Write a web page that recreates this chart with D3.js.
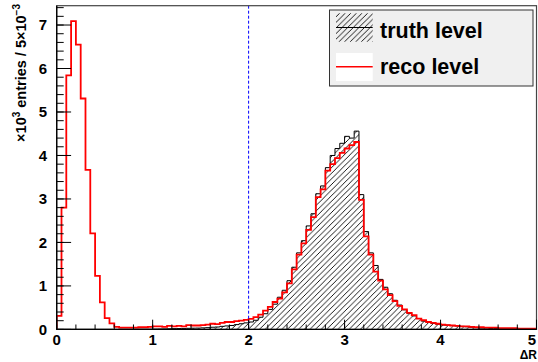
<!DOCTYPE html>
<html>
<head>
<meta charset="utf-8">
<script src="https://cdn.jsdelivr.net/npm/d3@7"></script>
<style>
html,body{margin:0;padding:0;background:#fff;}
svg{display:block;font-family:"Liberation Sans",Arial,sans-serif;}
</style>
</head>
<body>
<svg id="chart" width="538" height="362"></svg>
<script>
// ---- data ----
const xDomain = [0, 5];
const binWidth = 0.05;
const yTicks = [0, 1, 2, 3, 4, 5, 6, 7];
const xTicks = [0, 1, 2, 3, 4, 5];
const cutValue = 2;
const seriesNames = ["truth level", "reco level"];

// truth level (hatched), 100 bins of 0.05 (units of 10^3 entries)
const truth = [
  0, 0, 0, 0, 0, 0, 0, 0, 0, 0,
  0, 0, 0, 0.005, 0.005, 0.005, 0.005, 0.005, 0.005, 0.005,
  0.008, 0.01, 0.012, 0.015, 0.018, 0.02, 0.022, 0.025, 0.028, 0.03,
  0.035, 0.04, 0.05, 0.055, 0.07, 0.08, 0.09, 0.11, 0.13, 0.15,
  0.17, 0.21, 0.28, 0.36, 0.46, 0.58, 0.74, 0.90, 1.12, 1.43,
  1.76, 2.04, 2.38, 2.66, 3.12, 3.30, 3.72, 4.00, 4.16, 4.28,
  4.44, 4.40, 4.56, 3.10, 2.25, 1.76, 1.47, 1.15, 0.97, 0.82,
  0.67, 0.56, 0.45, 0.37, 0.31, 0.25, 0.19, 0.16, 0.14, 0.12,
  0.10, 0.10, 0.09, 0.08, 0.07, 0.06, 0.05, 0.04, 0.03, 0.03,
  0.02, 0.02, 0.02, 0.01, 0.01, 0.01, 0.01, 0.01, 0.01, 0.01
];
// reco level (red line)
const reco = [
  0.31, 2.80, 5.84, 7.09, 6.55, 5.31, 3.67, 2.21, 1.23, 0.62,
  0.26, 0.14, 0.06, 0.04, 0.04, 0.04, 0.04, 0.05, 0.05, 0.06,
  0.07, 0.07, 0.06, 0.08, 0.07, 0.08, 0.07, 0.10, 0.09, 0.09,
  0.10, 0.11, 0.13, 0.12, 0.15, 0.17, 0.17, 0.19, 0.20, 0.22,
  0.24, 0.28, 0.34, 0.43, 0.52, 0.63, 0.71, 0.85, 1.06, 1.38,
  1.72, 1.98, 2.29, 2.58, 3.04, 3.22, 3.65, 3.80, 3.94, 4.06,
  4.16, 4.24, 4.31, 2.98, 2.14, 1.72, 1.33, 1.12, 0.92, 0.79,
  0.65, 0.54, 0.46, 0.38, 0.33, 0.25, 0.21, 0.17, 0.15, 0.13,
  0.11, 0.10, 0.09, 0.08, 0.07, 0.07, 0.06, 0.05, 0.05, 0.04,
  0.04, 0.04, 0.03, 0.03, 0.03, 0.03, 0.02, 0.02, 0.02, 0.02
];

// ---- layout ----
const W = 538, H = 362;
const m = {left: 56.7, top: 5.7, right: 1.5, bottom: 32.6};
const iw = W - m.left - m.right, ih = H - m.top - m.bottom;
const yMax = d3.max(reco) * 1.05;

const x = d3.scaleLinear().domain(xDomain).range([0, iw]);
const y = d3.scaleLinear().domain([0, yMax]).range([ih, 0]);

const svg = d3.select("#chart");
const defs = svg.append("defs");
const hs = 5.6;
const hp = defs.append("pattern").attr("id", "hatch").attr("patternUnits", "userSpaceOnUse")
  .attr("width", hs).attr("height", hs);
hp.append("path").attr("d", `M-1,1 L1,-1 M0,${hs} L${hs},0 M${hs-1},${hs+1} L${hs+1},${hs-1}`)
  .attr("stroke", "#000").attr("stroke-width", 0.9);
defs.append("clipPath").attr("id", "clip").append("rect").attr("width", iw).attr("height", ih);

const g = svg.append("g").attr("transform", `translate(${m.left},${m.top})`);
g.append("rect").attr("width", iw).attr("height", ih).attr("fill", "#fff");

function stepPoints(vals) {
  const pts = vals.map((v, i) => [i * binWidth, v]);
  pts.push([vals.length * binWidth, vals[vals.length - 1]]);
  return pts;
}
const area = d3.area().x(d => x(d[0])).y0(y(0)).y1(d => y(d[1])).curve(d3.curveStepAfter);
const line = d3.line().x(d => x(d[0])).y(d => y(d[1])).curve(d3.curveStepAfter);

const plot = g.append("g").attr("clip-path", "url(#clip)");
const tp = stepPoints(truth);
plot.append("path").attr("d", area(tp)).attr("fill", "url(#hatch)");
plot.append("path").attr("d", "M" + x(0) + "," + y(0) + "L" + line(tp).slice(1) + "L" + x(5) + "," + y(0))
  .attr("fill", "none").attr("stroke", "#000").attr("stroke-width", 1);
const rp = stepPoints(reco);
plot.append("path").attr("d", "M" + x(0) + "," + y(0) + "L" + line(rp).slice(1) + "L" + x(5) + "," + y(0))
  .attr("fill", "none").attr("stroke", "#ff0000").attr("stroke-width", 1.8);

// cut line
g.append("line").attr("x1", x(cutValue)).attr("x2", x(cutValue)).attr("y1", 0).attr("y2", ih)
  .attr("stroke", "#0000ff").attr("stroke-width", 1).attr("stroke-dasharray", "3,2");

// frame
g.append("rect").attr("width", iw).attr("height", ih).attr("fill", "none")
  .attr("stroke", "#444").attr("stroke-width", 1.2);

// y axis ticks (inside)
const yMinor = d3.range(0, yMax, 0.2);
g.selectAll(".ym").data(yMinor).enter().append("line")
  .attr("x1", 0).attr("x2", 7).attr("y1", d => y(d)).attr("y2", d => y(d))
  .attr("stroke", "#000").attr("stroke-width", 1);
g.selectAll(".yM").data(yTicks).enter().append("line")
  .attr("x1", 0).attr("x2", 14.4).attr("y1", d => y(d)).attr("y2", d => y(d))
  .attr("stroke", "#000").attr("stroke-width", 1);
g.selectAll(".yl").data(yTicks).enter().append("text")
  .attr("x", -9.5).attr("y", d => y(d)).attr("dy", "0.36em")
  .attr("text-anchor", "end").attr("font-size", 15).attr("font-weight", "bold")
  .text(d => d);

// x axis ticks (inside)
const xMinor = d3.range(0, 5.001, 0.2);
g.selectAll(".xm").data(xMinor).enter().append("line")
  .attr("x1", d => x(d)).attr("x2", d => x(d)).attr("y1", ih).attr("y2", ih - 4.9)
  .attr("stroke", "#000").attr("stroke-width", 1);
g.selectAll(".xM").data(xTicks).enter().append("line")
  .attr("x1", d => x(d)).attr("x2", d => x(d)).attr("y1", ih).attr("y2", ih - 9.7)
  .attr("stroke", "#000").attr("stroke-width", 1);
g.selectAll(".xl").data(xTicks).enter().append("text")
  .attr("x", d => Math.min(x(d), iw - 4.5)).attr("y", ih + 15.2)
  .attr("text-anchor", "middle").attr("font-size", 15).attr("font-weight", "bold")
  .text(d => d);

// axis lines
g.append("line").attr("x1", 0).attr("x2", 0).attr("y1", 0).attr("y2", ih).attr("stroke", "#000").attr("stroke-width", 1.3);
g.append("line").attr("x1", 0).attr("x2", iw).attr("y1", ih).attr("y2", ih).attr("stroke", "#000").attr("stroke-width", 1.3);

// axis titles
const yt = svg.append("text").attr("transform", "translate(26,4) rotate(-90)")
  .attr("text-anchor", "end").attr("font-size", 14.5).attr("font-weight", "bold");
yt.append("tspan").text("×10");
yt.append("tspan").attr("font-size", 10).attr("dy", -6).text("3");
yt.append("tspan").attr("dy", 6).text(" entries / 5×10");
yt.append("tspan").attr("font-size", 10).attr("dy", -6).text("−3");
svg.append("text").attr("x", 537).attr("y", 359.3).attr("text-anchor", "end")
  .attr("font-size", 12).attr("font-weight", "bold").text("ΔR");

// legend
const lg = svg.append("g");
lg.append("rect").attr("x", 329.5).attr("y", 10).attr("width", 203.5).attr("height", 76)
  .attr("fill", "#f0f0f0").attr("stroke", "#333").attr("stroke-width", 1);
lg.append("rect").attr("x", 336).attr("y", 13.3).attr("width", 36.7).attr("height", 28.4).attr("fill", "url(#hatch)");
lg.append("line").attr("x1", 336).attr("x2", 372.7).attr("y1", 27.5).attr("y2", 27.5).attr("stroke", "#000").attr("stroke-width", 1);
lg.append("rect").attr("x", 336).attr("y", 53).attr("width", 36.7).attr("height", 28).attr("fill", "#fff");
lg.append("line").attr("x1", 336).attr("x2", 372.7).attr("y1", 66.7).attr("y2", 66.7).attr("stroke", "#ff0000").attr("stroke-width", 1.6);
lg.selectAll(".lt").data(seriesNames).enter().append("text")
  .attr("x", 380).attr("y", (d, i) => i === 0 ? 38.3 : 74.3)
  .attr("font-size", 21.5).attr("font-weight", "bold").text(d => d);
</script>
</body>
</html>
